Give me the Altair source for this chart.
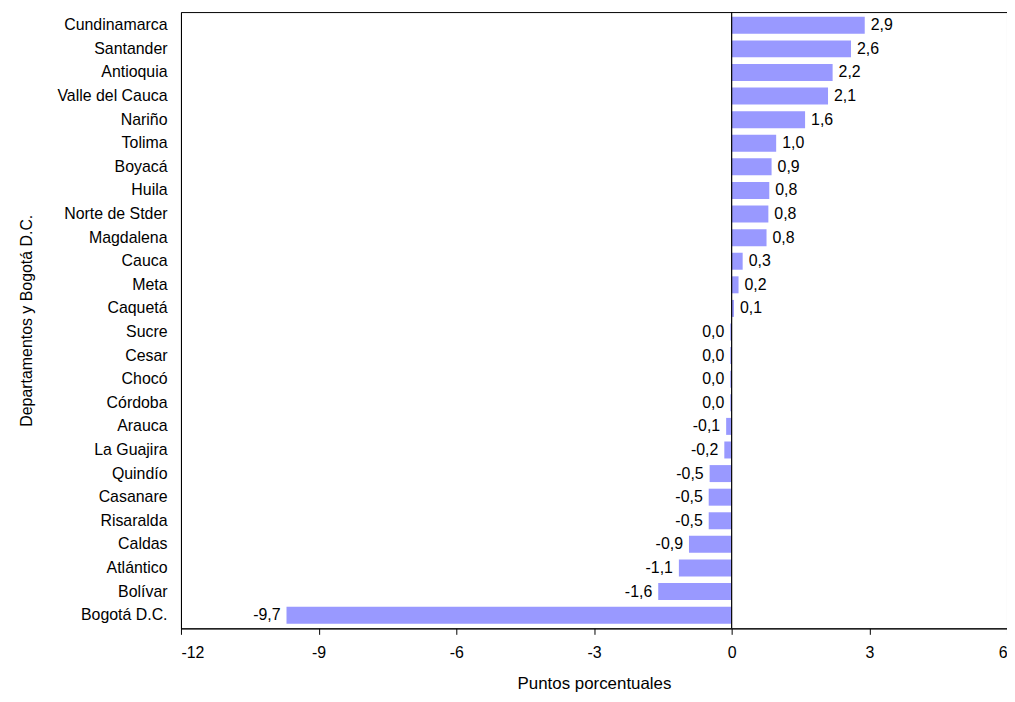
import altair as alt
import pandas as pd

deptos = ["Cundinamarca", "Santander", "Antioquia", "Valle del Cauca", "Nariño", "Tolima",
          "Boyacá", "Huila", "Norte de Stder", "Magdalena", "Cauca", "Meta", "Caquetá",
          "Sucre", "Cesar", "Chocó", "Córdoba", "Arauca", "La Guajira", "Quindío",
          "Casanare", "Risaralda", "Caldas", "Atlántico", "Bolívar", "Bogotá D.C."]
valores = [2.9, 2.6, 2.2, 2.1, 1.6, 0.97, 0.87, 0.82, 0.8, 0.76, 0.24, 0.15, 0.05,
           -0.03, -0.03, -0.03, -0.03, -0.12, -0.16, -0.48, -0.5, -0.5, -0.93, -1.15, -1.6, -9.7]
etiquetas = ["2,9", "2,6", "2,2", "2,1", "1,6", "1,0", "0,9", "0,8", "0,8", "0,8", "0,3", "0,2", "0,1",
             "0,0", "0,0", "0,0", "0,0", "-0,1", "-0,2", "-0,5", "-0,5", "-0,5", "-0,9", "-1,1", "-1,6", "-9,7"]

df = pd.DataFrame({"Depto": deptos, "Valor": valores, "Etiqueta": etiquetas})

y = alt.Y("Depto:N", sort=deptos, title="Departamentos y Bogotá D.C.",
          scale=alt.Scale(paddingInner=0.28, paddingOuter=0.2),
          axis=alt.Axis(ticks=False, labelPadding=14, labelFontSize=16, titleFontSize=16,
                        titlePadding=22, labelColor="black", titleColor="black", titleFontWeight="normal"))
x = alt.X("Valor:Q", title="Puntos porcentuales",
          scale=alt.Scale(domain=[-12, 6], nice=False),
          axis=alt.Axis(values=[-12, -9, -6, -3, 0, 3, 6], grid=False, tickSize=6,
                        labelExpr="replace(datum.label, '−', '-')",
                        labelFontSize=16, titleFontSize=17, titlePadding=16, labelPadding=10,
                        labelColor="black", titleColor="black", titleFontWeight="normal",
                        tickColor="black", domainColor="black"))

base = alt.Chart(df)
bars = base.mark_bar(color="#9999ff").encode(x=x, y=y)
pos = base.transform_filter("datum.Valor > 0").mark_text(
    align="left", dx=6, fontSize=16, font="Liberation Sans", color="black"
).encode(x="Valor:Q", y=alt.Y("Depto:N", sort=deptos), text="Etiqueta:N")
neg = base.transform_filter("datum.Valor <= 0").mark_text(
    align="right", dx=-6, fontSize=16, font="Liberation Sans", color="black"
).encode(x="Valor:Q", y=alt.Y("Depto:N", sort=deptos), text="Etiqueta:N")
zero = alt.Chart(pd.DataFrame({"z": [0]})).mark_rule(color="black", strokeWidth=1.2).encode(x="z:Q")

chart = alt.layer(bars, zero, pos, neg).properties(
    width=831, height=620,
    autosize=alt.AutoSizeParams(type="none"),
    padding={"left": 174, "top": 2, "right": 0, "bottom": 74}
).configure(font="Liberation Sans").configure_view(
    stroke="black", strokeWidth=1
).configure_axis(domainColor="black")

chart.save("out.html", embed_options={"renderer": "svg", "actions": False})
